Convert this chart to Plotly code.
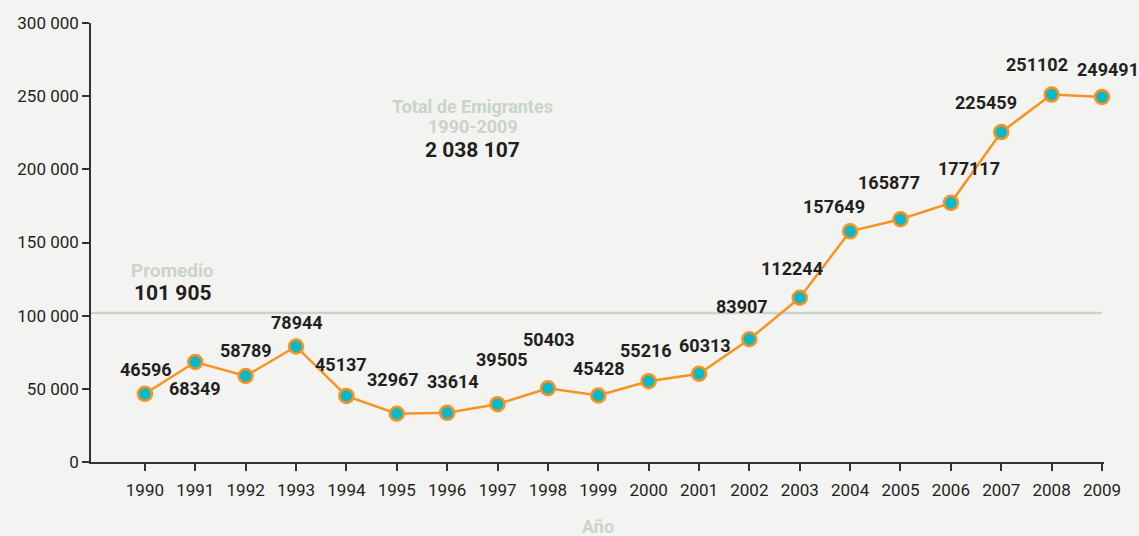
import plotly.graph_objects as go

years = list(range(1990, 2010))
emigrants = [46596, 68349, 58789, 78944, 45137, 32967, 33614, 39505, 50403, 45428,
             55216, 60313, 83907, 112244, 157649, 165877, 177117, 225459, 251102, 249491]
average = 101905
total = "2 038 107"
tick_vals_y = [0, 50000, 100000, 150000, 200000, 250000, 300000]
tick_text_y = ["0", "50 000", "100 000", "150 000", "200 000", "250 000", "300 000"]

# label offsets in pixels (dx, dy screen-down)
label_offsets = [(1, -24), (0, 27), (0, -25), (1, -24), (-5, -31), (-4, -34), (6, -31),
                 (4, -45), (1, -49), (1, -27), (-3, -31), (6, -28), (-7, -33), (-8, -29),
                 (-16, -25), (-11, -37), (18, -34), (-15, -30), (-15, -30), (6, -27)]

BG = "#f3f4f2"
ORANGE = "#f7931e"
TEAL = "#0cb8c8"
PALE = "#c9d4c6"
DARK = "#231f20"
FONT = "Roboto, Liberation Sans, sans-serif"

fig = go.Figure()

fig.add_trace(go.Scatter(
    x=[1988.93, 2009.0], y=[average, average], mode="lines",
    line=dict(color=PALE, width=2.5), hoverinfo="skip", showlegend=False,
    cliponaxis=False,
))

fig.add_trace(go.Scatter(
    x=years, y=emigrants, mode="lines+markers",
    line=dict(color=ORANGE, width=2.5),
    marker=dict(size=14, color=TEAL, line=dict(color=ORANGE, width=2.5)),
    cliponaxis=False, showlegend=False,
))

annotations = []
for yr, v, (dx, dy) in zip(years, emigrants, label_offsets):
    annotations.append(dict(
        x=yr, y=v, xref="x", yref="y", text=f"<b>{v}</b>", showarrow=False,
        xshift=dx, yshift=-dy,
        font=dict(family=FONT, size=18, color=DARK),
    ))

def ann(x, y, text, color, size):
    annotations.append(dict(x=x, y=y, xref="x", yref="y", text=text, showarrow=False,
                            font=dict(family=FONT, size=size, color=color)))

ann(1990.556, 131200, "<b>Promedio</b>", PALE, 19)
ann(1990.556, 115500, "<b>101 905</b>", DARK, 21)
ann(1996.51, 243000, "<b>Total de Emigrantes</b>", PALE, 18)
ann(1996.51, 229000, "<b>1990-2009</b>", PALE, 18)
ann(1996.51, 213200, "<b>" + total + "</b>", DARK, 21)

annotations.append(dict(x=1999, y=-0.148, xref="x", yref="paper", text="<b>Año</b>",
                        showarrow=False, yanchor="middle",
                        font=dict(family=FONT, size=18, color=PALE)))

fig.update_layout(
    width=1139, height=536,
    paper_bgcolor=BG, plot_bgcolor=BG,
    margin=dict(l=91, r=35, t=23, b=74),
    annotations=annotations,
    xaxis=dict(
        range=[1988.93, 2009.04], tickmode="array", tickvals=years,
        ticktext=[str(y) for y in years], automargin=False,
        showgrid=False, zeroline=False, showline=True, linecolor="#333333", linewidth=1.5,
        ticks="outside", ticklen=7, tickcolor="#333333", tickwidth=1.5,
        ticklabelstandoff=5,
        tickfont=dict(family=FONT, size=17, color=DARK),
    ),
    yaxis=dict(
        range=[0, 300000], tickmode="array", tickvals=tick_vals_y, ticktext=tick_text_y,
        automargin=False,
        showgrid=False, zeroline=False, showline=True, linecolor="#333333", linewidth=1.5,
        ticks="outside", ticklen=7, tickcolor="#333333", tickwidth=1.5,
        tickfont=dict(family=FONT, size=17, color=DARK),
    ),
)

fig.write_html("out.html", config={"displayModeBar": False},
               post_script="document.body.style.margin='0';document.body.style.background='#f3f4f2';")
